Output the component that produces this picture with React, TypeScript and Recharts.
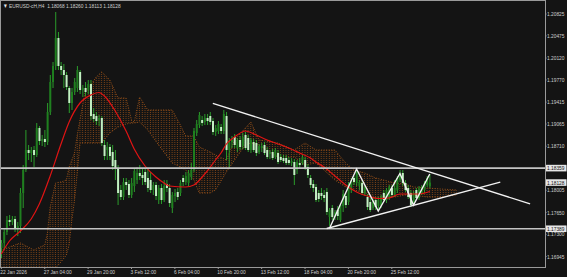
import React from 'react';
import { ComposedChart, Bar, Line, Area, XAxis, YAxis, ReferenceLine } from 'recharts';

// ---------- data (EURUSD H4) ----------
const candleOpen = [1.17081,1.17161,1.17337,1.17529,1.17497,1.17545,1.17385,1.17433,1.17961,1.18329,1.18649,1.18601,1.18649,1.18569,1.19001,1.18793,1.18825,1.18777,1.19257,1.19737,1.19993,1.20441,1.19993,1.19929,1.19849,1.19641,1.19401,1.19577,1.19641,1.19897,1.19609,1.19641,1.19609,1.19705,1.19225,1.19193,1.19129,1.19161,1.18729,1.18649,1.18697,1.18617,1.18489,1.18361,1.18009,1.17897,1.18137,1.18105,1.17929,1.18073,1.18169,1.18281,1.18249,1.18297,1.18201,1.18169,1.18009,1.18089,1.17849,1.18041,1.17849,1.18105,1.18041,1.17721,1.17913,1.17977,1.17961,1.18201,1.18137,1.18121,1.18217,1.18329,1.18921,1.19049,1.19129,1.19097,1.19161,1.19193,1.19113,1.18937,1.18953,1.19017,1.18953,1.19193,1.18649,1.18777,1.18857,1.18681,1.18809,1.18713,1.18889,1.18841,1.18649,1.18777,1.18761,1.18617,1.18681,1.18729,1.18649,1.18585,1.18617,1.18537,1.18601,1.18537,1.18521,1.18521,1.18489,1.18441,1.18457,1.18329,1.18441,1.18441,1.18489,1.18377,1.18201,1.18105,1.18057,1.17961,1.17961,1.17929,1.17977,1.17577,1.17721,1.17577,1.17689,1.17529,1.17753,1.17913,1.17817,1.18009,1.18201,1.18121,1.18073,1.18121,1.17961,1.17897,1.17817,1.17721,1.17849,1.17753,1.17769,1.17961,1.17849,1.17897,1.18041,1.17929,1.18009,1.18169,1.18281,1.18121,1.18041,1.17961,1.17801,1.18009,1.17881,1.17961,1.18009,1.18089,1.18068];
const candleHigh = [1.17209,1.17401,1.17593,1.17609,1.17593,1.17593,1.17497,1.18041,1.18409,1.18969,1.18729,1.18697,1.18713,1.19081,1.19033,1.18889,1.18969,1.19401,1.19849,1.20057,1.20857,1.20537,1.20057,1.20025,1.19897,1.19673,1.19641,1.19801,1.19993,1.19929,1.19689,1.19737,1.19769,1.19769,1.19321,1.19257,1.19209,1.19193,1.18809,1.18777,1.18745,1.18729,1.18649,1.18409,1.18089,1.18201,1.18201,1.18169,1.18201,1.18361,1.18377,1.18409,1.18361,1.18361,1.18361,1.18297,1.18137,1.18137,1.18089,1.18105,1.18169,1.18169,1.18105,1.17977,1.18025,1.18041,1.18169,1.18249,1.18297,1.18329,1.18441,1.19001,1.19129,1.19257,1.19193,1.19225,1.19225,1.19257,1.19161,1.19049,1.19113,1.19065,1.19289,1.19257,1.18841,1.18873,1.18905,1.18841,1.18873,1.18921,1.18937,1.18889,1.18841,1.18825,1.18809,1.18745,1.18761,1.18777,1.18697,1.18649,1.18665,1.18681,1.18649,1.18585,1.18569,1.18569,1.18537,1.18521,1.18505,1.18489,1.18521,1.18569,1.18537,1.18425,1.18249,1.18169,1.18105,1.18009,1.18041,1.18009,1.18041,1.17721,1.17769,1.17689,1.17753,1.17801,1.18009,1.17961,1.18137,1.18201,1.18233,1.18361,1.18169,1.18169,1.18089,1.17945,1.17881,1.17881,1.17897,1.17897,1.17929,1.18009,1.18041,1.18089,1.18089,1.18169,1.18233,1.18329,1.18329,1.18169,1.18089,1.18009,1.17993,1.18041,1.18073,1.18089,1.18153,1.18233,1.18260];
const candleLow = [1.16921,1.17049,1.17289,1.17433,1.17449,1.17337,1.17273,1.17321,1.17721,1.18297,1.18489,1.18457,1.18377,1.18537,1.18729,1.18713,1.18697,1.18729,1.19209,1.19641,1.19929,1.19929,1.19849,1.19641,1.19609,1.19241,1.19289,1.19529,1.19577,1.19545,1.19497,1.19513,1.19545,1.19129,1.19097,1.19049,1.19033,1.18713,1.18489,1.18489,1.18489,1.18329,1.18169,1.17769,1.17849,1.17849,1.18009,1.17881,1.17881,1.17977,1.18105,1.18169,1.18089,1.18089,1.17977,1.17961,1.17929,1.17849,1.17785,1.17785,1.17817,1.17977,1.17737,1.17641,1.17817,1.17849,1.17913,1.18073,1.18089,1.18073,1.18169,1.18297,1.18873,1.19001,1.19033,1.19049,1.19049,1.19049,1.18889,1.18873,1.18905,1.18905,1.18905,1.18489,1.18361,1.18681,1.18681,1.18617,1.18649,1.18665,1.18649,1.18617,1.18601,1.18617,1.18553,1.18585,1.18617,1.18569,1.18505,1.18505,1.18489,1.18505,1.18425,1.18457,1.18441,1.18409,1.18409,1.18393,1.18089,1.18265,1.18361,1.18409,1.18329,1.18201,1.18041,1.17977,1.17817,1.17817,1.17849,1.17817,1.17609,1.17433,1.17529,1.17529,1.17529,1.17497,1.17657,1.17721,1.17769,1.17961,1.18089,1.18073,1.18009,1.17929,1.17913,1.17689,1.17657,1.17689,1.17689,1.17689,1.17721,1.17817,1.17801,1.17849,1.17897,1.17897,1.17961,1.18137,1.18073,1.17977,1.17865,1.17737,1.17769,1.17849,1.17849,1.17929,1.17961,1.18057,1.18040];
const candleClose = [1.17161,1.17337,1.17529,1.17497,1.17545,1.17385,1.17433,1.17961,1.18329,1.18649,1.18601,1.18649,1.18569,1.19001,1.18793,1.18825,1.18777,1.19257,1.19737,1.19993,1.20441,1.19993,1.19929,1.19849,1.19657,1.19401,1.19577,1.19737,1.19929,1.19609,1.19641,1.19577,1.19705,1.19193,1.19145,1.19113,1.19161,1.18761,1.18553,1.18697,1.18553,1.18393,1.18361,1.17961,1.17897,1.18137,1.18089,1.17929,1.18121,1.18313,1.18281,1.18233,1.18201,1.18137,1.18041,1.18009,1.18089,1.17913,1.18041,1.17849,1.18073,1.18041,1.17801,1.17929,1.17961,1.17897,1.18121,1.18137,1.18233,1.18281,1.18329,1.18953,1.19065,1.19209,1.19081,1.19161,1.19113,1.19097,1.18937,1.19001,1.19065,1.18953,1.19225,1.18649,1.18777,1.18809,1.18729,1.18809,1.18697,1.18857,1.18681,1.18649,1.18809,1.18649,1.18601,1.18713,1.18713,1.18601,1.18537,1.18617,1.18521,1.18649,1.18457,1.18489,1.18473,1.18441,1.18441,1.18473,1.18249,1.18457,1.18409,1.18537,1.18361,1.18249,1.18089,1.18041,1.17849,1.17865,1.17913,1.17881,1.17657,1.17689,1.17577,1.17657,1.17593,1.17769,1.17945,1.17769,1.18089,1.18153,1.18137,1.18313,1.18137,1.17961,1.18057,1.17737,1.17689,1.17849,1.17737,1.17849,1.17897,1.17849,1.18009,1.18057,1.17929,1.18041,1.18201,1.18281,1.18121,1.18009,1.17897,1.17769,1.17961,1.17881,1.18025,1.18057,1.18121,1.18201,1.18128];

// moving average (red)
const maIdx = [0,3,7,11,14,18,22,25,29,33,36,38,42,46,49,53,57,60,62,68,71,75,79,81,83,86,90,94,98,101,105,110,114,116,119,123,127,131,135,139,143,147,150,154,158];
const maVal = [1.16985,1.17193,1.17353,1.17545,1.17785,1.18233,1.18745,1.19097,1.19401,1.19529,1.19569,1.19513,1.19273,1.18953,1.18665,1.18393,1.18217,1.18121,1.18073,1.18057,1.18089,1.18265,1.18489,1.18601,1.18745,1.18857,1.18953,1.18889,1.18809,1.18761,1.18697,1.18601,1.18521,1.18457,1.18377,1.18233,1.18089,1.17977,1.17913,1.17873,1.17881,1.17945,1.17945,1.17945,1.17985];

// ichimoku cloud
const cloudIdx = [0,3,7,12,16,17,18,20,22,24,25,26,27,28,29,31,33,35,37,40,43,46,48,49,51,54,58,63,66,68,71,73,77,79,83,86,90,92,95,102,108,112,116,119,123,127,130,134,138,141,145,149,152,157,162,168];
const cloudTop = [1.17049,1.17097,1.17161,1.17049,1.17129,1.17321,1.17737,1.18121,1.18137,1.18169,1.18377,1.18489,1.18601,1.18889,1.19129,1.19609,1.19689,1.19817,1.19897,1.19769,1.19481,1.19481,1.19129,1.19097,1.19497,1.19289,1.19289,1.19289,1.19049,1.18873,1.18873,1.18697,1.18617,1.18569,1.18489,1.18809,1.19001,1.19097,1.18809,1.18761,1.18649,1.18761,1.18649,1.18649,1.18649,1.18441,1.18329,1.18281,1.18201,1.18169,1.18121,1.18105,1.18057,1.18041,1.18025,1.18009];
const cloudBottom = [1.16697,1.16697,1.16697,1.16697,1.16697,1.16697,1.16697,1.16761,1.16857,1.16969,1.17129,1.17529,1.17849,1.18281,1.18761,1.18761,1.18761,1.18761,1.18761,1.18921,1.19017,1.19065,1.19081,1.19081,1.19097,1.18969,1.18729,1.18441,1.18377,1.18329,1.18169,1.17961,1.17961,1.18009,1.18297,1.18489,1.18729,1.18761,1.18729,1.18537,1.18537,1.18409,1.18441,1.18329,1.18169,1.18057,1.18009,1.17961,1.17897,1.17897,1.17897,1.17929,1.17929,1.17897,1.17897,1.17929];

// zigzag pattern (white)
const zzIdx = [121,131,139,147,152,158];
const zzVal = [1.17393,1.18345,1.17673,1.18273,1.17769,1.18265];

// triangle trend lines
const upperTrend = [{ x: 78, y: 1.19396 }, { x: 195, y: 1.17788 }];
const lowerTrend = [{ x: 120, y: 1.17393 }, { x: 184, y: 1.18135 }];
const levelHigh = 1.18359;
const levelLow = 1.17389;
const lastPrice = 1.18128;

const SLOTS = 201;
const xTickIdx = [0,16,32,48,64,80,96,112,128,144];
const xTickLabels = ['22 Jan 2026','27 Jan 04:00','29 Jan 20:00','3 Feb 12:00','6 Feb 04:00','10 Feb 20:00','13 Feb 12:00','18 Feb 04:00','20 Feb 20:00','25 Feb 12:00'];
const yTicks = [1.20825,1.20475,1.20120,1.19770,1.19415,1.19065,1.18710,1.18005,1.17650,1.17300,1.16945];
const header = 'EURUSD-cH,H4  1.18068 1.18260 1.18113 1.18128';

// ---------- table ----------
const data: any[] = Array.from({ length: SLOTS }, (_, i) => {
  const row: any = { i };
  if (i < candleOpen.length) {
    row.o = candleOpen[i];
    row.h = candleHigh[i];
    row.l = candleLow[i];
    row.c = candleClose[i];
    row.range = [candleLow[i], candleHigh[i]];
  }
  return row;
});
maIdx.forEach((idx, k) => { data[idx].ma = maVal[k]; });
cloudIdx.forEach((idx, k) => { data[idx].cloud = [cloudBottom[k], cloudTop[k]]; });
zzIdx.forEach((idx, k) => { data[idx].zz = zzVal[k]; });

const FONT = "'Liberation Sans', Arial, sans-serif";
const FS = 6.2;
const SX = 0.78;
const TEXT = '#cfcfcf';
const WICK = '#2b9c2b';
const BULL = '#1f7f1f';
const BEAR = '#c3f0c3';

const Candle = (props: any) => {
  const { x, y, width, height, payload } = props;
  if (!payload || payload.o == null) return <g />;
  const { o, h, l, c } = payload;
  const top = Math.min(y, y + height);
  const span = Math.abs(height);
  const py = (v: number) => (h === l ? top : top + ((h - v) / (h - l)) * span);
  const cx = x + width / 2;
  const bTop = py(Math.max(o, c));
  const bBot = py(Math.min(o, c));
  const up = c >= o;
  return (
    <g>
      <line x1={cx} x2={cx} y1={top} y2={top + span} stroke={WICK} strokeWidth={1} />
      <rect x={cx - 1} y={bTop} width={2} height={Math.max(1, bBot - bTop)} fill={up ? BULL : BEAR} />
    </g>
  );
};

const XTick = (props: any) => {
  const { x, y, payload } = props;
  const k = xTickIdx.indexOf(payload.value);
  if (k < 0) return <g />;
  return (
    <g>
      <line x1={x} x2={x} y1={y} y2={y + 2} stroke="#9a9a9a" strokeWidth={1} />
      <text transform={`translate(${x - 1},${y + 6.5}) scale(${SX},1)`} fontSize={FS} fill={TEXT} fontFamily={FONT} textAnchor="start">
        {xTickLabels[k]}
      </text>
    </g>
  );
};

const YTick = (props: any) => {
  const { x, y, payload } = props;
  return (
    <g>
      <line x1={x} x2={x + 1.5} y1={y} y2={y} stroke="#9a9a9a" strokeWidth={1} />
      <text transform={`translate(${x + 2},${y}) scale(${SX},1)`} dy="0.35em" fontSize={FS} fill={TEXT} fontFamily={FONT} textAnchor="start">
        {Number(payload.value).toFixed(5)}
      </text>
    </g>
  );
};

const PriceTag = (props: any) => {
  const { viewBox, text } = props;
  if (!viewBox) return <g />;
  const x = viewBox.x + viewBox.width + 1;
  const y = viewBox.y;
  return (
    <g>
      <rect x={x} y={y - 3.3} width={20.5} height={6.6} fill="#e6e6e6" />
      <text transform={`translate(${x + 1},${y}) scale(${SX},1)`} dy="0.35em" fontSize={FS} fill="#111" fontFamily={FONT}>{text}</text>
    </g>
  );
};

export default function App() {
  return (
    <div style={{ position: 'absolute', left: 0, top: 0, width: 567, height: 277, background: '#141414', overflow: 'hidden' }}>
      <ComposedChart width={567} height={277} data={data} margin={{ top: 1, right: 0, bottom: 0, left: 0 }} barCategoryGap={0} barGap={0}>
        <defs>
          <pattern id="kumo" width="2.711" height="2" patternUnits="userSpaceOnUse">
            <rect x="0.8" y="0" width="1" height="1" fill="#7a4116" />
          </pattern>
        </defs>
        <XAxis dataKey="i" type="category" interval={0} height={10} axisLine={false} tickLine={false} tickSize={0} tickMargin={0} tick={(p: any) => <XTick {...p} />} />
        <YAxis orientation="right" type="number" domain={[1.16777, 1.21033]} allowDataOverflow ticks={yTicks} interval={0} width={22} axisLine={false} tickLine={false} tickSize={0} tickMargin={0} tick={(p: any) => <YTick {...p} />} />
        <Area dataKey="cloud" type="linear" connectNulls fill="url(#kumo)" fillOpacity={1} stroke="#9a5219" strokeWidth={1} strokeDasharray="1 1.5" isAnimationActive={false} dot={false} activeDot={false} />
        <Bar dataKey="range" shape={(p: any) => <Candle {...p} />} isAnimationActive={false} />
        <Line dataKey="ma" type="monotone" connectNulls stroke="#e01414" strokeWidth={1.2} dot={false} activeDot={false} isAnimationActive={false} />
        <ReferenceLine y={levelHigh} stroke="#c4c4c4" strokeWidth={1.6} label={(p: any) => <PriceTag {...p} text={levelHigh.toFixed(5)} />} />
        <ReferenceLine y={levelLow} stroke="#c4c4c4" strokeWidth={1.6} label={(p: any) => <PriceTag {...p} text={levelLow.toFixed(5)} />} />
        <ReferenceLine y={lastPrice} stroke="#000" strokeOpacity={0} label={(p: any) => <PriceTag {...p} text={lastPrice.toFixed(5)} />} />
        <ReferenceLine segment={upperTrend} stroke="#f2f2f2" strokeWidth={1.3} />
        <ReferenceLine segment={lowerTrend} stroke="#f2f2f2" strokeWidth={1.3} />
        <Line dataKey="zz" type="linear" connectNulls stroke="#f2f2f2" strokeWidth={1.4} dot={false} activeDot={false} isAnimationActive={false} />
      </ComposedChart>
      <div style={{ position: 'absolute', left: 0, top: 0, width: 546, height: 268, boxSizing: 'border-box', border: '1px solid #9a9a9a', pointerEvents: 'none' }} />
      <div style={{ position: 'absolute', left: 3, top: 2, fontSize: FS, lineHeight: '7px', color: TEXT, fontFamily: FONT, whiteSpace: 'pre', transform: `scale(${SX},1)`, transformOrigin: '0 0' }}>
        <span style={{ color: '#e8e8e8' }}>▼ </span>{header}
      </div>
    </div>
  );
}
